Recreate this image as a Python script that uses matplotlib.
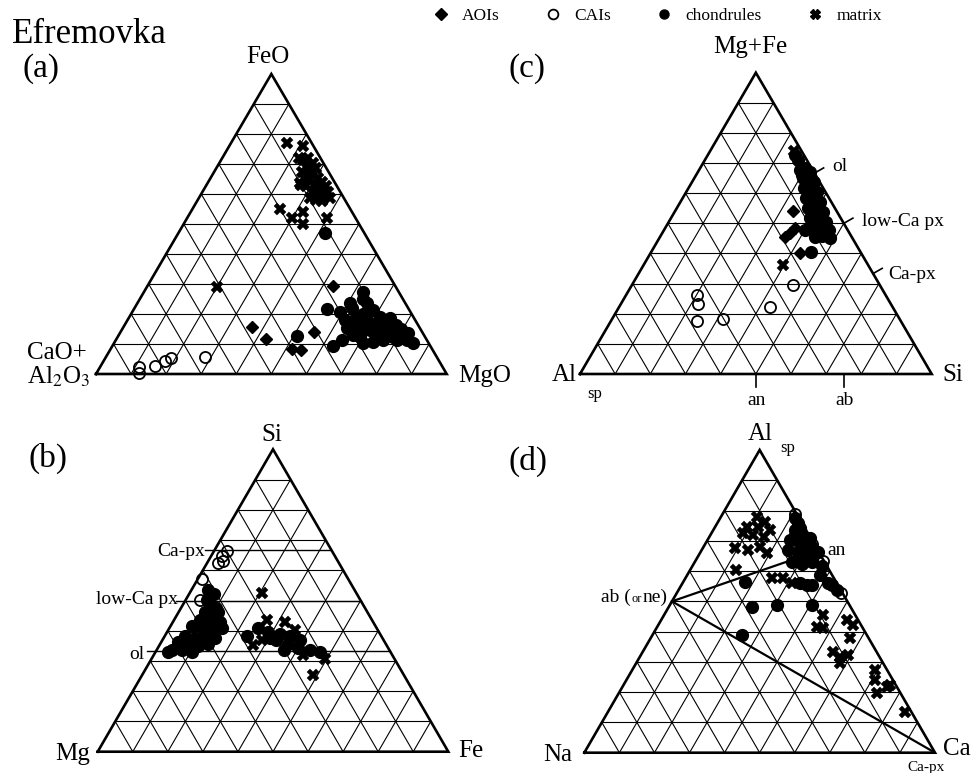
import numpy as np
import matplotlib
matplotlib.use("Agg")
import matplotlib.pyplot as plt
from matplotlib.lines import Line2D

plt.rcParams['font.family'] = ['Liberation Serif', 'DejaVu Serif']
plt.rcParams['mathtext.fontset'] = 'stix'

# ---------------- data (ternary %, third component = 100 - others) ----------------
# (a) top FeO, right MgO, left CaO+Al2O3
a_aoi_FeO = [29.3, 15.8, 11.6, 14.1, 8.2, 8.0]
a_aoi_MgO = [53.0, 36.7, 42.7, 55.1, 51.7, 54.4]
a_cai_FeO = [2.4, 0.5, 2.8, 4.4, 5.2, 5.6]
a_cai_MgO = [11.1, 12.0, 15.4, 17.5, 18.7, 28.3]
a_chd_FeO = [12.7, 21.6, 9.3, 11.3, 27.4, 23.6, 23.6, 20.8, 19.1, 21.3, 19.1, 18.6, 16.3,
             15.2, 15.8, 14.7, 13.6, 13.0, 12.4, 11.3, 10.2, 13.0, 10.2, 10.8, 18.0, 16.9,
             15.8, 12.4, 11.3, 12.4, 18.0, 47.0,
             22.0, 25.0, 17.0, 14.0, 20.0, 17.5, 14.5, 12.0, 15.0, 11.5, 13.8]
a_chd_MgO = [50.9, 55.2, 63.0, 64.6, 62.5, 65.4, 60.6, 59.2, 64.7, 68.4, 71.4, 74.5, 77.5,
             63.9, 67.4, 70.8, 74.2, 76.9, 80.5, 82.9, 85.4, 66.9, 71.1, 73.7, 68.2, 71.5,
             75.0, 69.1, 76.2, 78.6, 62.0, 41.8,
             62.0, 63.5, 66.0, 68.5, 66.0, 73.0, 73.0, 74.5, 79.5, 80.0, 82.0]
a_mtx_FeO = [77, 76, 72, 69, 63, 55, 52, 54, 50, 52, 29,
             71.3, 72, 70.3, 69, 68, 68.7, 66.7, 65.3, 64.7, 65.3, 64, 63, 62.7, 62, 62.7,
             60.7, 59.7, 60, 60.7, 58.7, 58, 57.7, 58.7, 63.7, 67.3]
a_mtx_MgO = [16, 21, 22, 26, 27, 25, 30, 32, 34, 40, 20,
             23.3, 24.5, 26.7, 25.4, 27.6, 28.4, 27.4, 26.6, 28.7, 30.6, 32.4, 30.7, 28.6, 32.9,
             34.3, 31.3, 33.5, 35, 35.8, 31.7, 33.7, 35.6, 37.4, 26.4, 25]

# (b) top Si, right Fe, left Mg
b_cai_Si = [66.5, 64.7, 62.5, 63.2, 57.0, 50.1]
b_cai_Fe = [3.7, 3.0, 3.2, 4.2, 1.2, 4.2]
b_chd_Si = [53.5, 52.1, 50.2, 48.2, 46.2, 46.2, 43.6, 43.6, 42.9, 41.6, 40.9, 40.3, 40.9,
            38.3, 37.6, 36.9, 37.6, 36.3, 35.6, 35.0, 35.6, 33.6, 33.6, 33.0, 33.0,
            38.3, 40.9, 39.6, 38.9, 38.3, 36.9, 36.9, 35.6, 34.3, 33.6, 33.0, 33.6, 37.6,
            44.5, 39.5, 36.0, 34.5, 47.5, 42.0]
b_chd_Fe = [4.7, 7.1, 6.1, 8.5, 11.2, 7.5, 7.4, 10.2, 13.4, 6.1, 9.3, 12.5, 15.0,
            5.8, 9.0, 12.1, 14.7, 4.8, 8.0, 11.1, 13.7, 4.4, 7.3, 10.4, 3.6,
            23.5, 25.3, 28.8, 32.6, 35.7, 39.2, 32.4, 36.5, 40.0, 43.8, 46.9, 36.3, 30.3,
            9.0, 11.0, 10.0, 6.0, 10.0, 8.5]
b_mtx_Si = [52.6, 43.6, 43.0, 35.3, 30.6, 25.4, 32.0, 36.9, 40.3]
b_mtx_Fe = [20.7, 26.4, 31.9, 26.7, 49.5, 48.8, 42.6, 28.4, 36.2]

# (c) top Mg+Fe, right Si, left Al
c_aoi_MgFe = [54.1, 45.4, 46.9, 48.4, 40.3]
c_aoi_Si = [33.5, 35.6, 36.3, 36.9, 42.4]
c_cai_MgFe = [26.2, 23.2, 17.6, 18.2, 22.1, 29.5]
c_cai_Si = [20.3, 22.0, 24.4, 31.7, 43.0, 45.8]
c_chd_MgFe = [67.7, 68.4, 67.0, 65.0, 64.4, 63.7, 61.7, 61.1, 60.4, 58.4, 57.8, 57.1, 55.1,
              54.4, 53.8, 51.8, 51.1, 50.4, 48.5, 47.8, 47.8, 45.8, 45.1, 47.8, 45.5, 71.0,
              72.7, 40.6, 66.0, 62.5, 59.5, 56.0, 53.0, 49.5, 46.5]
c_chd_Si = [28.7, 29.8, 31.9, 30.9, 32.6, 34.7, 32.9, 34.9, 37.2, 35.1, 37.1, 39.7, 37.3,
            39.6, 42.2, 39.5, 42.2, 44.8, 41.8, 44.3, 46.9, 45.9, 48.6, 40.1, 44.1, 26.5,
            24.8, 45.3, 30.0, 33.5, 36.0, 38.5, 40.5, 43.0, 47.0]
c_mtx_MgFe = [74.1, 36.2]
c_mtx_Si = [23.8, 39.5]

# (d) top Al, right Ca, left Na
d_cai_Al = [79, 69, 52.8, 63.3]
d_cai_Ca = [20.5, 30.5, 46.8, 36.4]
d_chd_Al = [56.5, 48.2, 48.8, 48.8, 38.9, 55.4, 56.2, 55.4, 55.4, 53.8, 73.6, 74.2, 70.3,
            70.3, 70.9, 67.0, 66.3, 67.0, 66.3, 63.0, 62.3, 63.0, 61.7, 76, 73, 77.5, 68,
            58.7, 56.1, 72.0, 69.0, 65.0, 64.5, 68.5, 71.5]
d_chd_Ca = [17.6, 23.6, 30.5, 40.4, 25.4, 35.7, 33.4, 37.1, 42.8, 45.1, 23.3, 24.4, 23.5,
            26.4, 28.9, 24.6, 27.8, 30.3, 33.5, 27.7, 30.9, 33.4, 36.9, 23, 25, 21.3, 31,
            37.9, 41.5, 24.0, 27.0, 29.0, 32.0, 29.5, 26.0]
d_mtx_Al = [78.0, 76.3, 74.7, 74.7, 73.6, 71.9, 71.4, 72.5, 67.5, 67.0, 68.1, 65.9, 60.4,
            57.6, 57.6, 56.0, 45.5, 41.6, 41.1, 43.8, 42.2, 37.8, 33.4, 31.7, 32.3, 29.5,
            27.3, 24.0, 19.6, 21.8, 22.4, 13.5]
d_mtx_Ca = [10.2, 13.4, 12.3, 9.0, 16.2, 12.2, 15.4, 9.1, 9.2, 13.3, 16.1, 19.1, 13.1,
            24.6, 27.9, 31.2, 45.4, 45.5, 47.6, 52.9, 55.6, 56.9, 54.3, 57.1, 59.1, 58.2,
            69.2, 70.9, 73.6, 75.3, 76.0, 84.7]

# mineral reference compositions (cation ratios)
ol_b_Si = 100 / 3.0      # Mg2SiO4 in Si-Mg-Fe
lpx_b_Si = 50.0          # MgSiO3
cpx_b_Si = 200 / 3.0     # CaMgSi2O6 (Ca ignored)
c_refs = {"ol": (200 / 3.0, 100 / 3.0), "low-Ca px": (50.0, 50.0), "Ca-px": (100 / 3.0, 200 / 3.0)}
c_base_refs = {"an": 50.0, "ab": 75.0}   # Si % on Al-Si join
d_ab = (50.0, 0.0)        # (Al, Ca)
d_an = (200 / 3.0, 100 / 3.0)
d_cpx = (0.0, 100.0)

# ---------------- helpers ----------------
SQ = np.sqrt(3) / 2
W, H = 977, 773


def tern(top, right):
    top = np.asarray(top, float) / 100.0
    right = np.asarray(right, float) / 100.0
    return right + top / 2.0, top * SQ


fig = plt.figure(figsize=(W / 100, H / 100), dpi=100)
fig.patch.set_facecolor('white')


def make_ax(left, base, width, height):
    ax = fig.add_axes([left / W, 1 - base / H, width / W, height / H])
    ax.set_xlim(0, 1)
    ax.set_ylim(0, SQ)
    ax.axis('off')
    return ax


def draw_grid(ax):
    kw = dict(color='black', lw=0.8, solid_capstyle='butt')
    for i in range(1, 10):
        f = i / 10
        ax.plot([f / 2, 1 - f / 2], [f * SQ, f * SQ], **kw)
        ax.plot([f, f + (1 - f) / 2], [0, (1 - f) * SQ], **kw)
        ax.plot([1 - f, (1 - f) / 2], [0, (1 - f) * SQ], **kw)
    ax.plot([0, 1, 0.5, 0], [0, 0, SQ, 0], color='black', lw=1.9,
            solid_joinstyle='miter', clip_on=False)


def scatter(ax, top, right, kind):
    x, y = tern(top, right)
    if kind == 'aoi':
        ax.plot(x, y, ls='none', marker='D', ms=6.5, color='black', clip_on=False, zorder=5)
    elif kind == 'cai':
        ax.plot(x, y, ls='none', marker='o', ms=8, mfc='none', mec='black', mew=1.3,
                clip_on=False, zorder=6)
    elif kind == 'chd':
        ax.plot(x, y, ls='none', marker='o', ms=8.5, color='black', clip_on=False, zorder=5)
    elif kind == 'mtx':
        ax.plot(x, y, ls='none', marker='X', ms=8.5, color='black', mec='black', mew=0.3,
                clip_on=False, zorder=5)


def ftext(x, y, s, size, ha='left', **kw):
    fig.text(x / W, 1 - y / H, s, fontsize=size, ha=ha, va='baseline', **kw)


# ---------------- panel (a) ----------------
ax_a = make_ax(96, 374, 350.7, 300)
draw_grid(ax_a)
scatter(ax_a, a_cai_FeO, a_cai_MgO, 'cai')
scatter(ax_a, a_aoi_FeO, a_aoi_MgO, 'aoi')
scatter(ax_a, a_chd_FeO, a_chd_MgO, 'chd')
scatter(ax_a, a_mtx_FeO, a_mtx_MgO, 'mtx')

# ---------------- panel (b) ----------------
ax_b = make_ax(97.7, 751.7, 350.6, 302.4)
draw_grid(ax_b)
for s_val in (ol_b_Si, lpx_b_Si, cpx_b_Si):
    yy = s_val / 100 * SQ
    ax_b.plot([s_val / 200 - 0.027, 1 - s_val / 200], [yy, yy], color='black', lw=1.0,
              clip_on=False)
scatter(ax_b, b_cai_Si, b_cai_Fe, 'cai')
scatter(ax_b, b_chd_Si, b_chd_Fe, 'chd')
scatter(ax_b, b_mtx_Si, b_mtx_Fe, 'mtx')

# ---------------- panel (c) ----------------
ax_c = make_ax(580, 374, 351.7, 301.3)
draw_grid(ax_c)
for name, (t, r) in c_refs.items():
    px, py = tern(t, r)
    ax_c.plot([px, px + 0.03 * 0.866], [py, py + 0.03 * 0.5], color='black', lw=1.2,
              clip_on=False)
for name, r in c_base_refs.items():
    px, py = tern(0, r)
    ax_c.plot([px, px], [py, py - 0.037], color='black', lw=1.2, clip_on=False)
scatter(ax_c, c_cai_MgFe, c_cai_Si, 'cai')
scatter(ax_c, c_aoi_MgFe, c_aoi_Si, 'aoi')
scatter(ax_c, c_chd_MgFe, c_chd_Si, 'chd')
scatter(ax_c, c_mtx_MgFe, c_mtx_Si, 'mtx')

# ---------------- panel (d) ----------------
ax_d = make_ax(584.3, 752.7, 350.7, 302.7)
draw_grid(ax_d)
xab, yab = tern(*d_ab)
xan, yan = tern(*d_an)
xcp, ycp = tern(*d_cpx)
ax_d.plot([xab, xan], [yab, yan], color='black', lw=1.6, zorder=4)
ax_d.plot([xab, xcp], [yab, ycp], color='black', lw=1.6, zorder=4)
scatter(ax_d, d_mtx_Al, d_mtx_Ca, 'mtx')
scatter(ax_d, d_chd_Al, d_chd_Ca, 'chd')
scatter(ax_d, d_cai_Al, d_cai_Ca, 'cai')

# ---------------- texts ----------------
ftext(12, 43, 'Efremovka', 25)
ftext(22, 77, '(a)', 24)
ftext(268, 63, 'FeO', 18, ha='center')
ftext(27, 359, 'CaO+', 18)
ftext(27, 384, 'Al$_2$O$_3$', 18)
ftext(458, 382, 'MgO', 18)

ftext(29, 467, '(b)', 24)
ftext(272, 441, 'Si', 18, ha='center')
ftext(90, 760, 'Mg', 18, ha='right')
ftext(458, 757, 'Fe', 18)
ftext(205, 556, 'Ca-px', 14, ha='right')
ftext(178, 604, 'low-Ca px', 14, ha='right')
ftext(144, 659, 'ol', 14, ha='right')

ftext(508, 77, '(c)', 24)
ftext(750, 53, 'Mg+Fe', 18, ha='center')
ftext(577, 381, 'Al', 18, ha='right')
ftext(942, 381, 'Si', 18)
ftext(832, 171, 'ol', 14)
ftext(862, 226, 'low-Ca px', 14)
ftext(888, 279, 'Ca-px', 14)
ftext(587, 398, 'sp', 12)
ftext(757, 405, 'an', 14, ha='center')
ftext(845, 405, 'ab', 14, ha='center')

ftext(508, 470, '(d)', 24)
ftext(760, 440, 'Al', 18, ha='center')
ftext(780, 452, 'sp', 12)
ftext(572, 761, 'Na', 18, ha='right')
ftext(943, 755, 'Ca', 18)
ftext(907, 771, 'Ca-px', 11)
ftext(827, 555, 'an', 14)
ftext(668, 602, 'ne)', 14, ha='right')
ftext(642, 602, 'or', 9, ha='right')
ftext(631, 602, 'ab (', 14, ha='right')

# ---------------- legend ----------------
handles = [
    Line2D([], [], ls='none', marker='D', ms=6, color='black'),
    Line2D([], [], ls='none', marker='o', ms=7, mfc='none', mec='black', mew=1.3),
    Line2D([], [], ls='none', marker='o', ms=6.5, color='black'),
    Line2D([], [], ls='none', marker='X', ms=6.5, color='black'),
]
fig.legend(handles, ['AOIs', 'CAIs', 'chondrules', 'matrix'], ncol=4, frameon=False,
           loc='center left', bbox_to_anchor=(432 / W, 1 - 16 / H), fontsize=12.5,
           handlelength=1.0, handletextpad=0.7, columnspacing=2.6, borderpad=0,
           borderaxespad=0)

fig.savefig('out.png', dpi=100, facecolor='white')
